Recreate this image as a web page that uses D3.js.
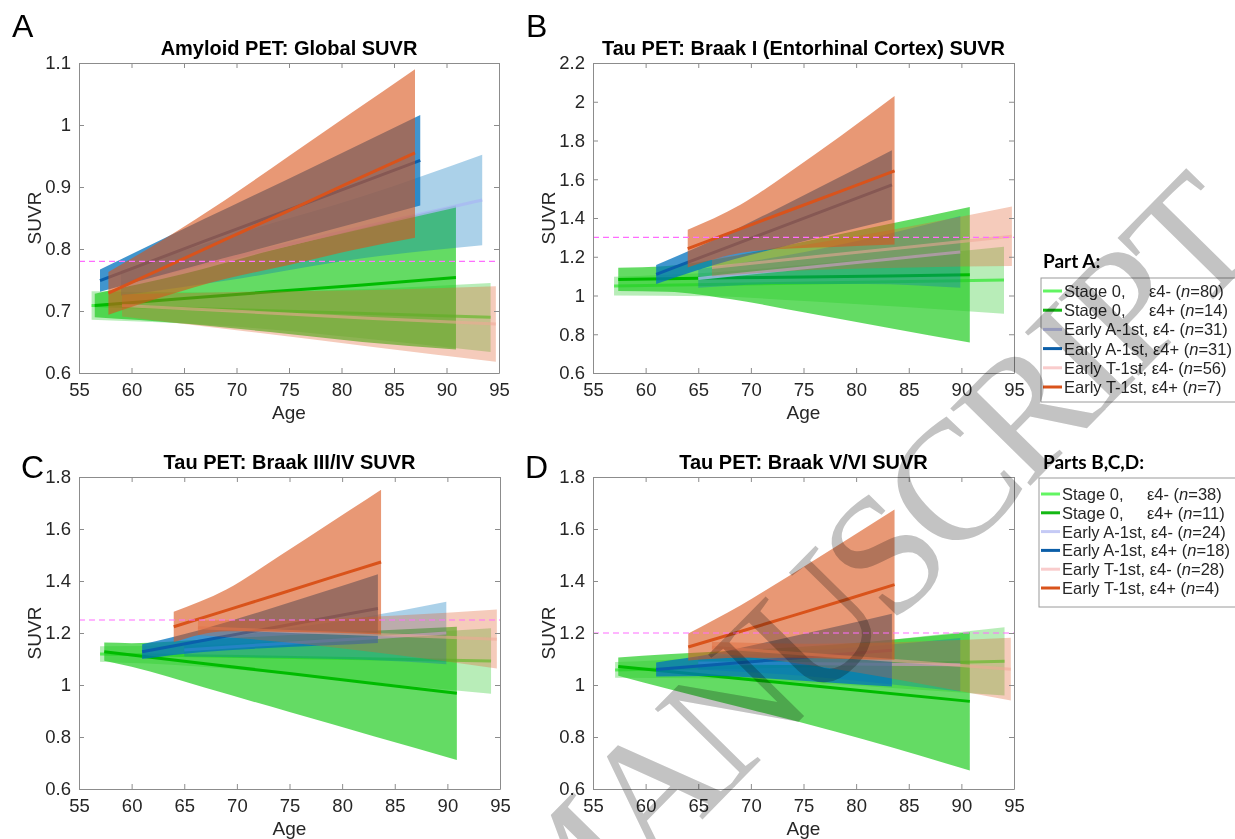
<!DOCTYPE html>
<html><head><meta charset="utf-8">
<script src="https://cdn.jsdelivr.net/npm/d3@7"></script>
<style>
body{margin:0;background:#fff;}
svg{display:block;font-family:"Liberation Sans",Arial,Helvetica,sans-serif;}
</style></head><body>
<svg id="chart" width="1235" height="839"></svg>
<script>
// ---------- DATA (rows: [age, mean SUVR, lower CI, upper CI]) ----------
const xTicks = [55, 60, 65, 70, 75, 80, 85, 90, 95];
const yTicksA = [0.6, 0.7, 0.8, 0.9, 1.0, 1.1];
const yTicksB = [0.6, 0.8, 1.0, 1.2, 1.4, 1.6, 1.8, 2.0, 2.2];
const yTicksCD = [0.6, 0.8, 1.0, 1.2, 1.4, 1.6, 1.8];

const legendGroup = ["Stage 0,", "Stage 0,", "Early A-1st,", "Early A-1st,", "Early T-1st,", "Early T-1st,"];
const legendApoe = ["ε4-", "ε4+", "ε4-", "ε4+", "ε4-", "ε4+"];
const nPartA = [80, 14, 31, 31, 56, 7];
const nPartBCD = [38, 11, 24, 18, 28, 4];

const titles = ["Amyloid PET: Global SUVR", "Tau PET: Braak I (Entorhinal Cortex) SUVR",
                "Tau PET: Braak III/IV SUVR", "Tau PET: Braak V/VI SUVR"];
const thresholds = [0.78, 1.3, 1.25, 1.2];

// Panel A: Amyloid
const ampS0neg = [[56.2,0.709,0.686,0.732],[69,0.7026,0.676,0.730],[81.5,0.6964,0.657,0.735],[94.2,0.690,0.634,0.745]];
const ampS0pos = [[56.5,0.709,0.690,0.728],[65,0.720,0.680,0.760],[73.2,0.731,0.666,0.797],[82,0.742,0.650,0.834],[90.9,0.754,0.638,0.870]];
const ampAneg  = [[59,0.745,0.725,0.765],[70.5,0.790,0.753,0.827],[82,0.835,0.785,0.885],[93.4,0.879,0.806,0.952]];
const ampApos  = [[57,0.749,0.731,0.767],[67,0.813,0.777,0.849],[77,0.876,0.822,0.930],[87.5,0.943,0.870,1.016]];
const ampTneg  = [[59.1,0.709,0.691,0.727],[71,0.6987,0.667,0.731],[83,0.688,0.642,0.734],[94.7,0.679,0.618,0.740]];
const ampTpos  = [[57.8,0.729,0.694,0.763],[63,0.769,0.723,0.815],[69,0.816,0.752,0.880],[75,0.862,0.774,0.950],[81,0.909,0.798,1.020],[87,0.955,0.818,1.090]];

// Panel B: Braak I
const brI_S0neg = [[57,1.049,1.000,1.097],[66,1.0565,0.996,1.117],[75.5,1.065,0.970,1.160],[85,1.072,0.939,1.205],[94.05,1.080,0.906,1.252]];
const brI_S0pos = [[57.4,1.083,1.023,1.143],[62,1.086,1.020,1.152],[68,1.091,0.982,1.200],[75,1.096,0.914,1.278],[83,1.101,0.834,1.368],[90.8,1.107,0.757,1.457]];
const brI_Aneg  = [[65,1.088,1.040,1.136],[73,1.132,1.060,1.204],[81,1.176,1.060,1.292],[89.9,1.225,1.040,1.410]];
const brI_Apos  = [[61,1.109,1.060,1.158],[66.5,1.223,1.158,1.288],[72,1.336,1.238,1.434],[77.7,1.454,1.316,1.591],[83.4,1.571,1.392,1.750]];
const brI_Tneg  = [[66.3,1.145,1.100,1.190],[75.8,1.199,1.131,1.267],[85.3,1.252,1.145,1.359],[94.8,1.306,1.152,1.460]];
const brI_Tpos  = [[64,1.242,1.145,1.339],[69,1.344,1.220,1.468],[73.7,1.440,1.242,1.638],[78.5,1.537,1.252,1.822],[83.65,1.643,1.263,2.030]];

// Panel C: Braak III/IV
const brIII_S0neg = [[57,1.119,1.089,1.149],[66,1.1125,1.072,1.153],[75.5,1.1056,1.039,1.172],[85,1.0987,1.002,1.195],[94.15,1.092,0.966,1.218]];
const brIII_S0pos = [[57.4,1.128,1.093,1.163],[60,1.1156,1.070,1.161],[67,1.082,0.989,1.175],[75,1.044,0.896,1.192],[83,1.006,0.803,1.209],[90.9,0.968,0.712,1.224]];
const brIII_Aneg  = [[65,1.135,1.110,1.160],[73.3,1.157,1.105,1.209],[81.6,1.178,1.098,1.258],[89.9,1.200,1.080,1.320]];
const brIII_Apos  = [[61,1.128,1.100,1.157],[66.5,1.169,1.126,1.212],[72,1.210,1.140,1.279],[77.7,1.252,1.151,1.352],[83.4,1.294,1.162,1.426]];
const brIII_Tneg  = [[66.3,1.220,1.192,1.248],[75.8,1.205,1.160,1.250],[85.2,1.191,1.115,1.267],[94.7,1.176,1.063,1.290]];
const brIII_Tpos  = [[64,1.224,1.165,1.282],[69,1.287,1.207,1.367],[74,1.350,1.205,1.495],[79,1.414,1.201,1.627],[83.7,1.473,1.194,1.751]];

// Panel D: Braak V/VI
const brV_S0neg = [[57.1,1.058,1.028,1.088],[66.4,1.066,1.025,1.107],[75.6,1.0745,1.008,1.141],[84.9,1.083,0.985,1.181],[94.1,1.091,0.960,1.222]];
const brV_S0pos = [[57.4,1.071,1.036,1.106],[62,1.0525,0.987,1.118],[70,1.0204,0.905,1.136],[78,0.9884,0.821,1.156],[90.8,0.937,0.671,1.203]];
const brV_Aneg  = [[65,1.085,1.060,1.110],[73.3,1.083,1.040,1.126],[81.6,1.080,1.010,1.150],[89.9,1.078,0.975,1.181]];
const brV_Apos  = [[61,1.060,1.033,1.087],[66.5,1.078,1.035,1.121],[72,1.096,1.024,1.169],[77.7,1.115,1.009,1.221],[83.4,1.134,0.994,1.274]];
const brV_Tneg  = [[66.3,1.145,1.125,1.165],[75.8,1.117,1.075,1.159],[85.2,1.089,1.012,1.166],[94.7,1.061,0.940,1.182]];
const brV_Tpos  = [[64.05,1.146,1.094,1.198],[69,1.206,1.105,1.306],[74,1.267,1.105,1.429],[79,1.328,1.100,1.556],[83.65,1.386,1.097,1.675]];

// ---------- STYLE ----------
const lineColors = ["#55e855", "#00bb00", "#a9b9f2", "#0a5fab", "#f0a898", "#d9531b"];
const lineOpacity = [1, 1, 0.8, 1, 0.55, 1];
const bandColors = ["#33cc33", "#22cc22", "#0072bd", "#0072bd", "#e06030", "#d95319"];
const bandOpacity = [0.35, 0.7, 0.33, 0.75, 0.33, 0.6];
const swatchColors = ["#62f562", "#14b814", "#c5caf5", "#0b5ea8", "#f9cccc", "#d9531b"];

const panels = [
  {letter:"A", lx:12, ly:37, x0:79, x1:499, y0:63, y1:373, dom:[0.6,1.1], ticks:yTicksA,
   series:[ampS0neg, ampS0pos, ampAneg, ampApos, ampTneg, ampTpos]},
  {letter:"B", lx:526, ly:37, x0:593, x1:1014, y0:63, y1:373, dom:[0.6,2.2], ticks:yTicksB,
   series:[brI_S0neg, brI_S0pos, brI_Aneg, brI_Apos, brI_Tneg, brI_Tpos]},
  {letter:"C", lx:21, ly:478, x0:79, x1:500, y0:477, y1:789, dom:[0.6,1.8], ticks:yTicksCD,
   series:[brIII_S0neg, brIII_S0pos, brIII_Aneg, brIII_Apos, brIII_Tneg, brIII_Tpos]},
  {letter:"D", lx:525, ly:478, x0:593, x1:1014, y0:477, y1:789, dom:[0.6,1.8], ticks:yTicksCD,
   series:[brV_S0neg, brV_S0pos, brV_Aneg, brV_Apos, brV_Tneg, brV_Tpos]}
];

const svg = d3.select("#chart");
const fmt = v => String(+v.toFixed(1));
const axisCol = "#8c8c8c", txtCol = "#262626";

panels.forEach((p, pi) => {
  const g = svg.append("g");
  const x = d3.scaleLinear().domain([55, 95]).range([p.x0, p.x1]);
  const y = d3.scaleLinear().domain(p.dom).range([p.y1, p.y0]);
  const cid = "clip" + pi;
  g.append("clipPath").attr("id", cid).append("rect")
    .attr("x", p.x0).attr("y", p.y0).attr("width", p.x1 - p.x0).attr("height", p.y1 - p.y0);
  const plot = g.append("g").attr("clip-path", `url(#${cid})`);
  const area = d3.area().x(d => x(d[0])).y0(d => y(d[2])).y1(d => y(d[3])).curve(d3.curveMonotoneX);
  const line = d3.line().x(d => x(d[0])).y(d => y(d[1]));
  p.series.forEach((s, i) => {
    plot.append("path").datum(s).attr("d", area)
      .attr("fill", bandColors[i]).attr("fill-opacity", bandOpacity[i]);
    plot.append("path").datum(s).attr("d", line)
      .attr("fill", "none").attr("stroke", lineColors[i]).attr("stroke-width", 3)
      .attr("stroke-opacity", lineOpacity[i]);
  });
  plot.append("line").attr("x1", x(55)).attr("x2", x(95))
    .attr("y1", y(thresholds[pi])).attr("y2", y(thresholds[pi]))
    .attr("stroke", "#ff6cff").attr("stroke-width", 1.2).attr("stroke-dasharray", "6,4");

  const styleAxis = sel => {
    sel.selectAll(".domain").attr("stroke", axisCol);
    sel.selectAll(".tick line").attr("stroke", axisCol);
    sel.selectAll("text").attr("fill", txtCol).attr("font-size", 18.5)
      .attr("font-family", '"Liberation Sans",Arial,Helvetica,sans-serif');
    sel.attr("font-family", null).attr("font-size", null);
  };
  g.append("g").attr("transform", `translate(0,${p.y1})`)
    .call(d3.axisBottom(x).tickValues(xTicks).tickSizeInner(-5).tickSizeOuter(0).tickPadding(10).tickFormat(d3.format("d")))
    .call(styleAxis);
  g.append("g").attr("transform", `translate(0,${p.y0})`)
    .call(d3.axisTop(x).tickValues(xTicks).tickSizeInner(-5).tickSizeOuter(0).tickFormat(""))
    .call(styleAxis);
  g.append("g").attr("transform", `translate(${p.x0},0)`)
    .call(d3.axisLeft(y).tickValues(p.ticks).tickSizeInner(-5).tickSizeOuter(0).tickPadding(8).tickFormat(fmt))
    .call(styleAxis);
  g.append("g").attr("transform", `translate(${p.x1},0)`)
    .call(d3.axisRight(y).tickValues(p.ticks).tickSizeInner(-5).tickSizeOuter(0).tickFormat(""))
    .call(styleAxis);

  g.append("text").attr("x", (p.x0 + p.x1) / 2).attr("y", p.y0 - 8)
    .attr("text-anchor", "middle").attr("font-weight", "bold").attr("font-size", 20)
    .attr("fill", "#000").text(titles[pi]);
  g.append("text").attr("x", (p.x0 + p.x1) / 2).attr("y", p.y1 + 46)
    .attr("text-anchor", "middle").attr("font-size", 19).attr("fill", txtCol).text("Age");
  g.append("text").attr("transform", `translate(${p.x0 - 38},${(p.y0 + p.y1) / 2}) rotate(-90)`)
    .attr("text-anchor", "middle").attr("font-size", 19).attr("fill", txtCol).text("SUVR");
  g.append("text").attr("x", p.lx).attr("y", p.ly).attr("font-size", 32).attr("fill", "#000").text(p.letter);
});

// ---------- LEGENDS ----------
function legend(title, tx, ty, bx, by, bh, rowY0, dy, ns) {
  const g = svg.append("g");
  g.append("text").attr("x", tx).attr("y", ty).attr("font-family", "Lato, 'Open Sans', sans-serif")
    .attr("font-weight", "bold").attr("font-size", 19).attr("fill", "#000").text(title);
  g.append("rect").attr("x", bx).attr("y", by).attr("width", 220).attr("height", bh)
    .attr("fill", "#fff").attr("stroke", "#9a9a9a").attr("stroke-width", 1);
  ns.forEach((n, i) => {
    const cy = rowY0 + i * dy;
    g.append("line").attr("x1", bx + 2).attr("x2", bx + 21).attr("y1", cy).attr("y2", cy)
      .attr("stroke", swatchColors[i]).attr("stroke-width", 3);
    const t = g.append("text").attr("x", bx + 23).attr("y", cy + 6).attr("font-size", 16.5).attr("fill", txtCol);
    t.append("tspan").text(legendGroup[i] + " ");
    const second = t.append("tspan");
    if (i < 2) second.attr("x", bx + 23 + 85);
    second.text(legendApoe[i] + " (");
    t.append("tspan").attr("font-style", "italic").text("n");
    t.append("tspan").text("=" + n + ")");
  });
}
legend("Part A:", 1043, 268, 1041, 278, 124, 291, 19.2, nPartA);
legend("Parts B,C,D:", 1043, 469, 1039, 478, 129, 494, 18.8, nPartBCD);

// ---------- WATERMARK ----------
svg.append("text")
  .attr("transform", "translate(1262,250) rotate(-45.5)")
  .attr("text-anchor", "end")
  .attr("font-family", '"Liberation Serif","Times New Roman",serif')
  .attr("font-size", 170)
  .attr("letter-spacing", -8)
  .attr("fill", "#c3c3c3")
  .style("mix-blend-mode", "multiply")
  .style("pointer-events", "none")
  .text("ACCEPTED MANUSCRIPT");
</script></body></html>
